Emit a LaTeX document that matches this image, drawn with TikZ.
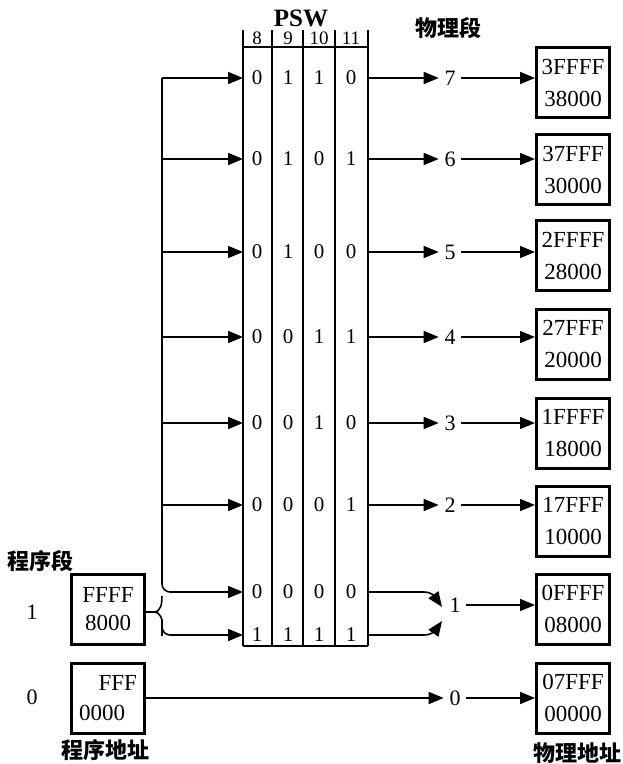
\documentclass[tikz,border=0pt]{standalone}
\usepackage{fontspec}
\setmainfont{Liberation Serif}
\newfontfamily\cjk{Noto Sans CJK SC}
\usetikzlibrary{arrows.meta,positioning}
\tikzset{>={Triangle[length=7.5pt,width=6pt]},
         every node/.style={font=\fontsize{11}{13}\selectfont},
         addrbox/.style={draw,line width=1.5pt,minimum width=36.5pt,
           minimum height=35pt,inner sep=1pt,align=center,
           font=\fontsize{11.5}{16}\selectfont},
         bit/.style={inner sep=1pt,font=\fontsize{10.5}{12}\selectfont},
         segno/.style={inner sep=2.5pt},
         hdr/.style={inner sep=0pt,font=\fontsize{9.5}{11}\selectfont},
         cjklabel/.style={font=\cjk\bfseries\fontsize{11}{13}\selectfont}}

\begin{document}
\begin{tikzpicture}[x=0.5pt,y=-0.5pt,line width=0.8pt]
  \useasboundingbox (0,0) rectangle (622,764);
  % PSW table
  \node[font=\bfseries\fontsize{12.5}{14}\selectfont] (psw) at (301,18) {PSW};
  \foreach \x in {243,272,303,335,368}
    \draw (\x,30) -- (\x,646);
  \draw (243,47) -- (368,47);
  \draw (243,646) -- (368,646);
  \foreach \n/\x in {8/257,9/288,10/319,11/351}
    \node[hdr] (h\n) at (\x,38) {\n};
  \node[cjklabel] (physeg) at (448,28) {物理段};
  % segments 7 .. 2
  \foreach \s/\y/\a/\b/\c/\d in {7/78/0/1/1/0,6/159/0/1/0/1,5/252/0/1/0/0,
                                  4/337/0/0/1/1,3/423/0/0/1/0,2/505/0/0/0/1} {
    \node[bit] (b\s-8) at (257,\y) {\a};
    \node[bit] (b\s-9) at (288,\y) {\b};
    \node[bit] (b\s-10) at (319,\y) {\c};
    \node[bit] (b\s-11) at (351,\y) {\d};
    \coordinate (bus\s) at (162,\y);
    \coordinate (in\s) at (243,\y);
    \coordinate (out\s) at (368,\y);
    \node[segno] (seg\s) at (450,\y) {\s};
    \draw[->] (bus\s) -- (in\s);
    \draw[->] (out\s) -- (seg\s);
  }
  \foreach \s/\y/\hi/\lo in {7/83/3FFFF/38000,6/170/37FFF/30000,
                             5/256/2FFFF/28000,4/344/27FFF/20000,
                             3/433/1FFFF/18000,2/521/17FFF/10000,
                             1/609/0FFFF/08000,0/698/07FFF/00000}
    \node[addrbox] (pa\s) at (573,\y) {\hi\\\lo};
  \foreach \s in {7,6,...,2}
    \draw[->] (seg\s.east) -- (seg\s.east -| pa\s.west);
  % segment 1
  \node[bit] (b1a-8) at (257,592) {0};
  \node[bit] (b1a-9) at (288,592) {0};
  \node[bit] (b1a-10) at (319,592) {0};
  \node[bit] (b1a-11) at (351,592) {0};
  \node[bit] (b1b-8) at (257,635) {1};
  \node[bit] (b1b-9) at (288,635) {1};
  \node[bit] (b1b-10) at (319,635) {1};
  \node[bit] (b1b-11) at (351,635) {1};
  \node[cjklabel] (progseg) at (40,561) {程序段};
  \node (ps1) at (32,612) {1};
  \node (ps0) at (32,697) {0};
  \node[addrbox,font=\fontsize{11.5}{14}\selectfont] (la1) at (108,609) {FFFF\\8000};
  \node[addrbox,align=left,text width=29pt,font=\fontsize{11.5}{15}\selectfont]
    (la0) at (108,698) {\hfill FFF\\0000};
  \coordinate (bus1a) at (162,592);
  \coordinate (bus1b) at (162,635);
  \coordinate (in1a) at (243,592);
  \coordinate (in1b) at (243,635);
  \coordinate (brm) at (154,612);
  \coordinate (brup) at (162,596);
  \coordinate (brdn) at (162,628);
  \draw[->,rounded corners=4pt] (bus7) -- (bus1a) -- (in1a);
  \draw (la1.east |- brm) -- (brm) to[out=0,in=-90] (brup);
  \draw[->,rounded corners=4pt] (brm) to[out=0,in=90] (brdn) -- (bus1b) -- (in1b);
  \node[segno] (seg1) at (455,605) {1};
  \node[segno] (seg0) at (455,698) {0};
  \coordinate (out1a) at (368,592);
  \coordinate (out1b) at (368,635);
  \coordinate (tip1a) at (442,607);
  \coordinate (tip1b) at (442,621);
  \draw[->] (out1a) -- (424,592) to[out=0,in=125] (tip1a);
  \draw[->] (out1b) -- (424,635) to[out=0,in=-125] (tip1b);
  \draw[->] (seg1.east) -- (seg1.east -| pa1.west);
  % segment 0
  \draw[->] (la0) -- (seg0);
  \draw[->] (seg0) -- (pa0);
  \node[cjklabel] (progaddr) at (105,750) {程序地址};
  \node[cjklabel] (physaddr) at (577,753) {物理地址};
\end{tikzpicture}
\end{document}
